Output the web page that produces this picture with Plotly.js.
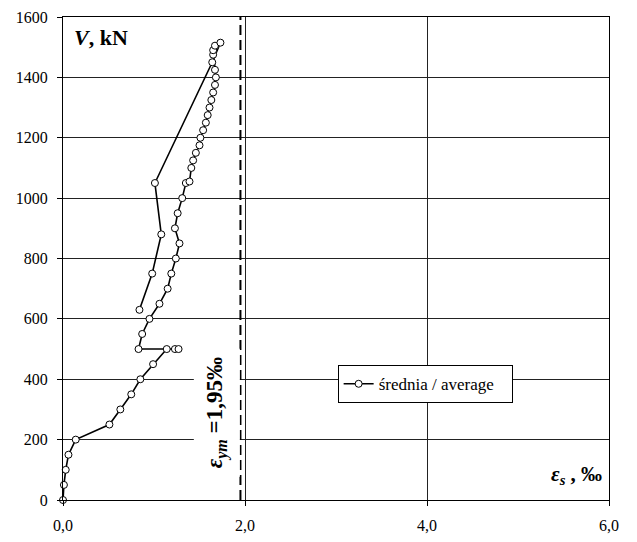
<!DOCTYPE html>
<html>
<head>
<meta charset="utf-8">
<script src="https://cdn.plot.ly/plotly-3.0.1.min.js"></script>
<style>html,body{margin:0;padding:0;background:#fff}#chart{width:637px;height:542px}</style>
</head>
<body>
<div id="chart"></div>
<script>
// strain eps_s [‰] and load V [kN], in measured order
const strain = [0,0.01,0.03,0.06,0.14,0.51,0.63,0.75,0.85,0.99,1.14,1.23,1.27,0.83,0.87,0.95,1.06,1.15,1.19,1.24,1.28,1.23,1.26,1.31,1.35,1.39,1.41,1.43,1.46,1.50,1.51,1.54,1.57,1.59,1.61,1.63,1.65,1.67,1.68,1.67,1.65,1.65,1.67,1.73,1.64,1.01,1.08,0.98,0.84];
const load = [0,50,100,150,200,250,300,350,400,450,500,500,500,500,550,600,650,700,750,800,850,900,950,1000,1050,1055,1100,1125,1150,1175,1200,1225,1250,1275,1300,1325,1350,1375,1400,1425,1475,1490,1505,1515,1450,1050,880,750,630];
const seriesName = "średnia / average";
const yieldStrain = 1.95;
const yieldLabel = "<b><i>ε</i><sub><i>ym</i></sub> =1,95‰</b>";
const xTicks = [0, 2, 4, 6];
const yTicks = [0,200,400,600,800,1000,1200,1400,1600];

const fam = "Liberation Serif";

const trace = {
  x: strain, y: load, name: seriesName + "\u00a0\u00a0\u00a0", type: "scatter", mode: "lines+markers",
  line: {color: "#000", width: 1.6},
  marker: {symbol: "circle", size: 7, color: "#fff", line: {color: "#000", width: 1}},
  cliponaxis: false
};

const layout = {
  width: 637, height: 542,
  margin: {l: 63, r: 28, t: 17, b: 42, pad: 0},
  paper_bgcolor: "#fff", plot_bgcolor: "#fff",
  separators: ",.",
  showlegend: true,
  legend: {x: 0.503, y: 0.279, xanchor: "left", yanchor: "top",
    bgcolor: "#fff", bordercolor: "#000", borderwidth: 1,
    font: {family: fam, size: 17, color: "#000"}},
  xaxis: {range: [0, 6], tickvals: xTicks, tickformat: ".1f",
    tickfont: {family: fam, size: 16, color: "#000"},
    showgrid: true, gridcolor: "#222", gridwidth: 1,
    showline: true, linecolor: "#000", linewidth: 1, mirror: true,
    ticks: "outside", ticklen: 5, tickcolor: "#000",
    zeroline: false, fixedrange: true, ticklabelstandoff: 6},
  yaxis: {range: [0, 1600], tickvals: yTicks,
    tickfont: {family: fam, size: 16, color: "#000"},
    showgrid: true, gridcolor: "#222", gridwidth: 1,
    showline: true, linecolor: "#000", linewidth: 1, mirror: true,
    ticks: "outside", ticklen: 5, tickcolor: "#000",
    zeroline: false, fixedrange: true, ticklabelstandoff: 6},
  shapes: [{type: "line", xref: "x", yref: "y", x0: yieldStrain, x1: yieldStrain, y0: 0, y1: 1600,
    line: {color: "#000", width: 2, dash: "10px,5px"}, layer: "above"}],
  annotations: [
    {xref: "paper", yref: "paper", x: 0.016, y: 0.988, xanchor: "left", yanchor: "top",
      text: "<b><i>V</i>, kN</b>", showarrow: false, font: {family: fam, size: 22, color: "#000"}},
    {xref: "paper", yref: "paper", x: 0.99, y: 0.02, xanchor: "right", yanchor: "bottom",
      text: "<b><i>ε</i><sub><i>s</i></sub> , ‰</b>", showarrow: false, font: {family: fam, size: 21, color: "#000"}},
    {xref: "x", yref: "y", x: 1.69, y: 290, text: yieldLabel, textangle: -90, showarrow: false,
      bgcolor: "#fff", borderpad: 8, font: {family: fam, size: 23, color: "#000"}}
  ]
};

Plotly.newPlot("chart", [trace], layout, {staticPlot: true, displayModeBar: false});
</script>
</body>
</html>
